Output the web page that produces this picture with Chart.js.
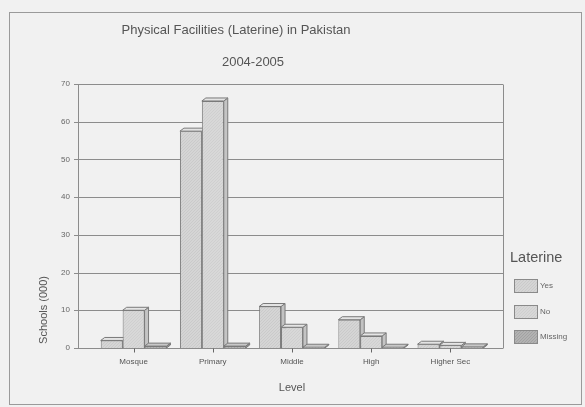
<!DOCTYPE html>
<html>
<head>
<meta charset="utf-8">
<script src="https://cdn.jsdelivr.net/npm/chart.js@4.4.1/dist/chart.umd.min.js"></script>
<style>
  html, body { margin: 0; padding: 0; background: #f1f1f1; }
  #wrap { width: 585px; height: 407px; }
</style>
</head>
<body>
<div id="wrap"><canvas id="chart" width="585" height="407"></canvas></div>
<script>
const levels = ["Mosque", "Primary", "Middle", "High", "Higher Sec"];
const yesSchools = [2, 57.5, 11, 7.5, 1];
const noSchools = [10, 65.5, 5.5, 3.2, 0.7];
const missingSchools = [0.5, 0.5, 0.2, 0.2, 0.3];
const yTicks = [0, 10, 20, 30, 40, 50, 60, 70];

// hatched fill, like the scanned original
function hatch(base, ink, step){
    const c = document.createElement("canvas");
    c.width = step; c.height = step;
    const g = c.getContext("2d");
    g.fillStyle = base;
    g.fillRect(0, 0, step, step);
    g.fillStyle = ink;
    for(let i = 0; i < step; i++){
        g.fillRect(i, step - 1 - i, 1, 1);
    }
    return g.createPattern(c, "repeat");
}

const ctx = document.getElementById("chart").getContext("2d");
const faces = [
    {front: hatch("#d5d5d5", "#cacaca", 3), top: "#e3e3e3", side: "#c2c2c2"},
    {front: hatch("#d8d8d8", "#cfcfcf", 3), top: "#e5e5e5", side: "#c4c4c4"},
    {front: hatch("#b2b2b2", "#a2a2a2", 3), top: "#c8c8c8", side: "#949494"}
];

const AXIS_X = 78, RIGHT_X = 503, DX = 4, DY = -3;

const decor = {
    id: "decor",
    beforeDraw(chart){
        const c = chart.ctx;
        c.save();
        c.fillStyle = "#f1f1f1";
        c.fillRect(0, 0, chart.width, chart.height);
        c.strokeStyle = "#9a9a9a";
        c.lineWidth = 1;
        c.strokeRect(9.5, 12.5, 572, 392);

        c.fillStyle = "#555";
        c.textAlign = "center";
        c.textBaseline = "middle";
        c.font = "13px 'Liberation Sans', Arial, sans-serif";
        c.fillText("Physical Facilities (Laterine) in Pakistan", 236, 30);
        c.font = "13px 'Liberation Sans', Arial, sans-serif";
        c.fillText("2004-2005", 253, 62);
        c.font = "11px 'Liberation Sans', Arial, sans-serif";
        c.fillText("Level", 292, 388);
        c.save();
        c.translate(44, 310);
        c.rotate(-Math.PI / 2);
        c.fillText("Schools (000)", 0, 0);
        c.restore();

        // legend
        c.textAlign = "left";
        c.font = "14.5px 'Liberation Sans', Arial, sans-serif";
        c.fillText("Laterine", 510, 258);
        c.font = "8px 'Liberation Sans', Arial, sans-serif";
        const boxY = [279, 305, 330];
        chart.data.datasets.forEach((ds, i) => {
            c.fillStyle = ds.backgroundColor;
            c.fillRect(514, boxY[i], 23, 13);
            c.strokeStyle = "#8a8a8a";
            c.strokeRect(514.5, boxY[i] + 0.5, 23, 13);
            c.fillStyle = "#666";
            c.fillText(ds.label, 540, boxY[i] + 7);
        });
        c.restore();
    },
    beforeDatasetsDraw(chart){
        const c = chart.ctx;
        const y = chart.scales.y;
        const x = chart.scales.x;
        c.save();
        c.lineWidth = 1;
        c.strokeStyle = "#8c8c8c";
        yTicks.forEach(t => {
            const py = Math.round(y.getPixelForValue(t)) + 0.5;
            c.beginPath();
            c.moveTo(AXIS_X - 4, py);
            c.lineTo(RIGHT_X, py);
            c.stroke();
        });
        const top = Math.round(y.getPixelForValue(70)) + 0.5;
        const bot = Math.round(y.getPixelForValue(0)) + 0.5;
        c.beginPath();
        c.moveTo(AXIS_X + 0.5, top);
        c.lineTo(AXIS_X + 0.5, bot);
        c.moveTo(RIGHT_X + 0.5, top);
        c.lineTo(RIGHT_X + 0.5, bot);
        c.stroke();
        c.strokeStyle = "#666";
        levels.forEach((l, i) => {
            const px = Math.round(x.getPixelForValue(i)) + 0.5;
            c.beginPath();
            c.moveTo(px, bot);
            c.lineTo(px, bot + 4);
            c.stroke();
        });

        // 3D top and side faces, left to right so neighbours cover them
        const bars = [];
        chart.data.datasets.forEach((ds, i) => {
            chart.getDatasetMeta(i).data.forEach(el => bars.push({el: el, f: faces[i]}));
        });
        bars.sort((a, b) => a.el.x - b.el.x);
        c.strokeStyle = "#7a7a7a";
        bars.forEach(b => {
            const p = b.el.getProps(["x", "y", "base", "width"], true);
            const l = p.x - p.width / 2, r = p.x + p.width / 2;
            c.beginPath();
            c.moveTo(r, p.y);
            c.lineTo(r + DX, p.y + DY);
            c.lineTo(r + DX, p.base + DY);
            c.lineTo(r, p.base);
            c.closePath();
            c.fillStyle = b.f.side;
            c.fill();
            c.stroke();
            c.beginPath();
            c.moveTo(l, p.y);
            c.lineTo(l + DX, p.y + DY);
            c.lineTo(r + DX, p.y + DY);
            c.lineTo(r, p.y);
            c.closePath();
            c.fillStyle = b.f.top;
            c.fill();
            c.stroke();
        });
        c.restore();
    }
};

new Chart(ctx, {
    type: "bar",
    data: {
        labels: levels,
        datasets: [
            {label: "Yes", data: yesSchools, backgroundColor: faces[0].front},
            {label: "No", data: noSchools, backgroundColor: faces[1].front},
            {label: "Missing", data: missingSchools, backgroundColor: faces[2].front}
        ]
    },
    options: {
        responsive: false,
        animation: false,
        layout: {padding: {left: 0, right: 95, top: 84, bottom: 0}},
        datasets: {
            bar: {
                borderColor: "#7a7a7a",
                borderWidth: 1,
                borderSkipped: "bottom",
                barPercentage: 1,
                categoryPercentage: 0.83
            }
        },
        plugins: {
            legend: {display: false},
            title: {display: false},
            tooltip: {enabled: false}
        },
        scales: {
            x: {
                grid: {display: false, drawTicks: false},
                border: {display: false},
                ticks: {
                    padding: 9,
                    color: "#555",
                    font: {family: "'Liberation Sans', Arial, sans-serif", size: 8}
                },
                afterFit: s => { s.height = 59; }
            },
            y: {
                min: 0,
                max: 70,
                grid: {display: false, drawTicks: false},
                border: {display: false},
                ticks: {
                    stepSize: 10,
                    padding: 24,
                    color: "#666",
                    font: {family: "'Liberation Sans', Arial, sans-serif", size: 8}
                },
                afterFit: s => { s.width = 94; }
            }
        }
    },
    plugins: [decor]
});
</script>
</body>
</html>
